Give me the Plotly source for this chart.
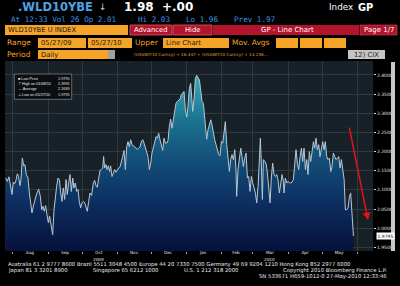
import plotly.graph_objects as go
import pandas as pd

# ---------------- data ----------------
START_DATE = "2009-07-24"
# day offsets from START_DATE for each traced point
day_offsets = [
    1.6, 3.0, 4.5, 6.0, 7.2, 8.3, 9.5, 10.7, 11.9, 13.0,
    14.2, 15.1, 16.3, 17.5, 18.6, 19.8, 21.3, 22.5, 23.7, 24.8,
    26.0, 27.5, 29.0, 30.7, 32.2, 33.4, 34.6, 35.7, 36.9, 38.1,
    39.3, 40.4, 41.6, 43.1, 44.3, 45.4, 46.6, 47.8, 49.0, 50.2,
    51.3, 52.5, 53.7, 54.9, 56.0, 57.2, 58.4, 59.6, 60.8, 61.9,
    63.1, 64.3, 65.5, 66.6, 67.8, 69.0, 70.2, 71.4, 72.5, 73.7,
    74.9, 76.1,
    77.5, 79.0, 80.2, 81.4, 82.5, 83.7, 84.9, 86.1, 87.3, 88.1,
    89.0, 90.2, 91.1, 92.3, 93.4, 94.3, 95.5, 96.7, 97.9, 99.0,
    100.2, 101.4, 102.6, 103.7, 104.9, 106.1, 107.3, 108.5, 109.6, 110.8,
    112.0, 113.2, 114.3, 115.5, 116.7, 117.9, 119.1, 120.2, 121.4, 122.6,
    123.8, 124.9, 126.1, 127.3, 128.5, 129.7, 130.8, 132.0, 133.2, 134.4,
    135.6, 136.7, 137.9, 139.1, 140.3, 141.4, 142.6, 143.8, 145.0, 146.1,
    147.3, 148.5, 149.7, 150.9, 152.0, 153.2, 154.4, 155.6,
    156.7, 157.9, 159.1, 160.3, 161.5, 162.6, 163.8, 165.0, 166.2, 166.8,
    167.9, 169.1, 170.3, 171.5, 172.7, 173.8, 175.0, 176.2, 177.4, 178.5,
    179.1, 180.3, 181.5, 182.7, 183.8, 185.0, 186.2, 187.4, 188.6, 189.7,
    190.9, 192.1, 193.3, 194.4, 195.6, 196.8, 198.0, 199.2, 200.3, 201.5,
    202.7, 203.9, 205.0, 205.6, 206.8, 208.0, 209.2, 210.3, 211.5, 212.7,
    213.9, 215.1, 216.2, 217.4, 218.6, 219.8, 220.9, 222.1, 223.3, 224.5,
    225.7, 226.5, 227.4, 228.3, 229.2, 230.4, 231.5, 232.7, 233.9, 235.1,
    236.2, 237.4, 238.6, 239.8, 241.0, 242.1, 243.3, 244.5, 245.7, 246.9,
    247.4, 248.6, 249.8, 251.0, 252.2, 253.3, 254.5, 255.7, 256.9, 258.0,
    259.2, 260.4, 261.6, 262.8, 263.9, 265.1, 266.3, 267.5, 268.6, 269.8,
    271.0, 272.2, 273.4, 274.5, 275.7, 276.9, 278.1, 279.2, 280.4, 281.6,
    282.8, 283.9, 285.1, 286.3, 287.5, 288.7, 289.8, 291.0, 292.2, 293.4,
    294.6, 295.7, 296.9, 298.1, 299.3, 300.5, 301.6, 302.8, 304.0, 305.2,
    306.3, 307.5, 308.7,
]
prices = [
    2.131, 2.122, 2.134, 2.109, 2.088, 2.120, 2.116, 2.125, 2.142, 2.135,
    2.111, 2.127, 2.183, 2.163, 2.166, 2.140, 2.131, 2.092, 2.057, 2.040,
    2.057, 2.075, 2.090, 2.102, 2.083, 2.048, 2.057, 2.044, 2.059, 2.035,
    2.014, 2.031, 2.005, 1.983, 2.048, 2.085, 2.109, 2.131, 2.127, 2.092,
    2.070, 2.105, 2.075, 2.127, 2.088, 2.118, 2.140, 2.096, 2.131, 2.105,
    2.118, 2.096, 2.101, 2.070, 2.053, 2.066, 2.070, 2.066, 2.057, 2.044,
    2.070, 2.092,
    2.085, 2.118, 2.125, 2.111, 2.107, 2.127, 2.151, 2.153, 2.157, 2.187,
    2.157, 2.166, 2.153, 2.163, 2.148, 2.163, 2.135, 2.144, 2.153, 2.146,
    2.153, 2.157, 2.160, 2.170, 2.187, 2.203, 2.153, 2.213, 2.226, 2.213,
    2.231, 2.218, 2.215, 2.212, 2.209, 2.206, 2.209, 2.212, 2.226, 2.231,
    2.222, 2.209, 2.200, 2.187, 2.153, 2.170, 2.196, 2.213, 2.231, 2.239,
    2.235, 2.248, 2.231, 2.215, 2.203, 2.235, 2.222, 2.222, 2.229, 2.265,
    2.285, 2.261, 2.287, 2.309, 2.326, 2.331, 2.335, 2.337,
    2.348, 2.352, 2.357, 2.309, 2.290, 2.318, 2.365, 2.378, 2.335, 2.305,
    2.335, 2.391, 2.399, 2.394, 2.387, 2.361, 2.331, 2.326, 2.283, 2.248,
    2.232, 2.257, 2.274, 2.283, 2.270, 2.244, 2.231, 2.218, 2.200, 2.192,
    2.189, 2.226, 2.222, 2.244, 2.278, 2.218, 2.170, 2.148, 2.179, 2.192,
    2.179, 2.205, 2.153, 2.083, 2.153, 2.183, 2.209, 2.187, 2.161, 2.183,
    2.196, 2.131, 2.135, 2.096, 2.135, 2.118, 2.105, 2.092, 2.066, 2.109,
    2.183, 2.235, 2.170, 2.075, 2.179, 2.174, 2.170, 2.144, 2.092, 2.066,
    2.131, 2.170, 2.140, 2.135, 2.140, 2.127, 2.092, 2.118, 2.140, 2.122,
    2.092, 2.131, 2.118, 2.122, 2.118, 2.118, 2.120, 2.127, 2.179, 2.205,
    2.170, 2.153, 2.187, 2.209, 2.174, 2.209, 2.153, 2.179, 2.140, 2.200,
    2.174, 2.209, 2.226, 2.209, 2.235, 2.205, 2.218, 2.187, 2.209, 2.226,
    2.205, 2.226, 2.187, 2.179, 2.183, 2.148, 2.161, 2.196, 2.187, 2.179,
    2.183, 2.187, 2.157, 2.179, 2.153, 2.127, 2.048, 2.048, 2.053, 2.083,
    2.092, 2.040, 1.9795,
]
month_labels = ["Aug", "Sep", "Oct", "Nov", "Dec", "Jan", "Feb", "Mar", "Apr", "May"]
month_label_dates = ["2009-08-16", "2009-09-16", "2009-10-16", "2009-11-16", "2009-12-16",
                     "2010-01-16", "2010-02-14", "2010-03-16", "2010-04-16", "2010-05-16"]
year_labels = ["2009", "2010"]
year_label_dates = ["2009-10-16", "2010-03-16"]
y_ticks = [1.95, 2.00, 2.05, 2.10, 2.15, 2.20, 2.25, 2.30, 2.35, 2.40]
legend_names = ["\u25a0 Last Price", "\u22a4 High on 01/08/10", "\u2192 Average", "\u22a5 Low on 05/27/10"]
legend_values = ["1.9795", "2.3991", "2.1669", "1.9795"]
last_price = 1.9795

if len(day_offsets) != len(prices):
    raise SystemExit(f"length mismatch {len(day_offsets)} vs {len(prices)}")

dates = pd.Timestamp(START_DATE) + pd.to_timedelta(day_offsets, unit="D")

# ---------------- geometry helpers (page pixels -> paper) ----------------
W, H = 400, 286
L, R, T, B = 5, 373, 61, 251


def px(x):
    return (x - L) / (R - L)


def py(y):
    return (B - y) / (B - T)


SANS = "DejaVu Sans"
NARROW = "Liberation Sans"
MONO = "DejaVu Sans Mono"
ORANGE = "#f5a428"
RED = "#b3132b"
GRID = "#2e3940"

shapes = []
annotations = []


def rect(x0, y0, x1, y1, fill, line=None, lw=0):
    shapes.append(dict(type="rect", xref="paper", yref="paper",
                       x0=px(x0), x1=px(x1), y0=py(y1), y1=py(y0),
                       fillcolor=fill, line=dict(color=line or fill, width=lw),
                       layer="above"))


def text(x, y, s, size, color, family=SANS, anchor="left", bold=False):
    annotations.append(dict(xref="paper", yref="paper", x=px(x), y=py(y), text=s,
                            showarrow=False, xanchor=anchor, yanchor="middle",
                            borderpad=0,
                            font=dict(size=size, color=color, family=family,
                                      weight="bold" if bold else "normal")))


fig = go.Figure()
fig.add_trace(go.Scatter(
    x=dates, y=prices, mode="lines",
    line=dict(color="#b7c7d4", width=1),
    fill="tozeroy",
    fillgradient=dict(type="vertical",
                      colorscale=[[0, "#06113a"], [0.25, "#0c2b5e"], [0.5, "#124c77"],
                                  [0.75, "#1b7490"], [1, "#3dabbb"]],
                      start=1.94, stop=2.40),
    hoverinfo="skip", showlegend=False,
))

# ---------------- header ----------------
text(17, 7.2, ".WLD10YBE", 11.5, "#4da3e6", SANS, bold=True)
text(98, 7.2, "\u2193", 9, "#c8d0e0", SANS)
text(123, 7.2, "1.98\u00a0\u00a0+.00", 12, "#ffffff", SANS, bold=True)
text(328, 7.2, "Index", 8.8, "#ffffff", SANS)
text(357, 7.2, "GP", 9.8, "#ffffff", SANS, bold=True)

text(10, 19.8, "At 12:33 Vol 26 Op 2.01", 7.6, "#3f8fe0", MONO)
text(137, 19.8, "Hi 2.03", 7.6, "#3f8fe0", MONO)
text(185, 19.8, "Lo 1.96", 7.6, "#3f8fe0", MONO)
text(233, 19.8, "Prev 1.97", 7.6, "#3f8fe0", MONO)

# row 3
rect(5, 25, 128, 35, ORANGE)
text(7, 30, "WLD10YBE U INDEX", 6.8, "#1a1a1a")
rect(130, 25, 172, 35, RED, "#e05a6a", 0.8)
text(151, 30, "Advanced", 6.8, "#ffffff", anchor="center")
rect(173, 25, 212, 35, RED, "#e05a6a", 0.8)
text(192.5, 30, "Hide", 6.8, "#ffffff", anchor="center")
rect(213, 25, 359, 35, RED)
text(287, 30, "GP - Line Chart", 7, "#ffffff", anchor="center")
rect(360, 25, 397, 35, RED, "#d04a5a", 0.6)
text(378.5, 30, "Page 1/7", 7, "#ffffff", anchor="center")

# row 4
text(6, 43, "Range", 7.5, ORANGE)
rect(38, 38, 86, 48, ORANGE)
text(40, 43, "05/27/09", 6.8, "#1a1a1a")
text(86.3, 43, "-", 7, ORANGE)
rect(88, 38, 132, 48, ORANGE)
text(90, 43, "05/27/10", 6.8, "#1a1a1a")
text(134, 43, "Upper", 7.5, ORANGE)
rect(163, 38, 229, 48, ORANGE)
text(165, 43, "Line Chart", 6.8, "#1a1a1a")
text(231, 43, "Mov. Avgs", 7.5, ORANGE)
rect(276, 38, 298, 48, ORANGE)
rect(300, 38, 322, 48, ORANGE)
rect(324, 38, 346, 48, ORANGE)

# row 5
text(6, 54.5, "Period", 7.5, ORANGE)
rect(38, 50, 108, 59, ORANGE)
rect(108, 50, 115, 59, "#a0a0a0")
text(40, 54.5, "Daily", 6.8, "#1a1a1a")
text(133, 54.5, "(USSWIT10 Curncy) + 16.447 + (USSWIT10 Curncy) + 14.236...", 4.2, "#e0a030")
rect(348, 50, 385, 59, "#c4c4c4")
text(366.5, 54.5, "12) CIX", 6.8, "#2a2a2a", anchor="center")

# ---------------- in-plot legend box ----------------
rect(14.3, 74, 71.7, 99.3, "#0b0e10", "#7a8088", 0.8)
for i, (nm, val) in enumerate(zip(legend_names, legend_values)):
    yy = 79 + i * 5.2
    text(16.5, yy, nm, 3.8, "#e6e6e6", NARROW)
    text(70.5, yy, val, 3.8, "#e6e6e6", NARROW, anchor="right")

# ---------------- right side: last price, scrollbar ----------------
rect(391, 62, 395, 251, "#c8c8c8")
annotations.append(dict(xref="paper", yref="y", x=px(375.5), y=last_price,
                        text="1.9795", showarrow=False, xanchor="left", yanchor="middle",
                        bgcolor="#ffffff", borderpad=0.5,
                        font=dict(size=4.5, color="#000000", family=SANS)))

# red arrow
annotations.append(dict(xref="paper", yref="paper", x=px(368), y=py(220),
                        ax=-19, ay=-94, text="", showarrow=True,
                        arrowcolor="#e41414", arrowwidth=1.5, arrowhead=2, arrowsize=1,
                        standoff=0, startstandoff=0))

# year labels
for d, lab in zip(year_label_dates, year_labels):
    annotations.append(dict(xref="x", yref="paper", x=d, y=py(259.5), text=lab,
                            showarrow=False, xanchor="center", yanchor="middle",
                            font=dict(size=4.2, color="#e6e6e6", family=SANS)))

# ---------------- footer ----------------
FOOT = "#e8e8e8"
text(7, 264.5, "Australia 61 2 9777 8600 Brazil 5511 3048 4500 Europe 44 20 7330 7500 "
               "Germany 49 69 9204 1210 Hong Kong 852 2977 6000", 5.3, FOOT)
text(7, 270.3, "Japan 81 3 3201 8900", 5.3, FOOT)
text(92, 270.3, "Singapore 65 6212 1000", 5.3, FOOT)
text(183, 270.3, "U.S. 1 212 318 2000", 5.3, FOOT)
text(388, 270.3, "Copyright 2010 Bloomberg Finance L.P.", 5.3, FOOT, anchor="right")
text(388, 276, "SN 533671 H659-1012-0 27-May-2010 12:33:46", 5.3, FOOT, anchor="right")

fig.update_layout(
    width=W, height=H,
    margin=dict(l=L, r=W - R, t=T, b=H - B, pad=0),
    paper_bgcolor="#000000", plot_bgcolor="#182127",
    showlegend=False,
    shapes=shapes, annotations=annotations,
    xaxis=dict(type="date", range=["2009-07-25", "2010-06-15"],
               tickmode="array", tickvals=month_label_dates, ticktext=month_labels,
               ticks="", showgrid=False, zeroline=False, showline=False,
               ticklabelstandoff=-2,
               tickfont=dict(size=4.2, color="#e6e6e6", family=SANS),
               minor=dict(tickmode="linear", dtick="M1", tick0="2009-08-01",
                          showgrid=True, gridcolor=GRID, gridwidth=1,
                          ticks="outside", ticklen=2, tickcolor="#aaaaaa")),
    yaxis=dict(side="right", range=[1.9404, 2.4365],
               tickmode="array", tickvals=y_ticks, tickformat=".4f",
               ticks="outside", ticklen=2, tickcolor="#dddddd",
               showgrid=True, gridcolor=GRID, gridwidth=1,
               zeroline=False, showline=False,
               tickfont=dict(size=4.5, color="#e0e0e0", family=SANS)),
)

fig.write_html("out.html")
